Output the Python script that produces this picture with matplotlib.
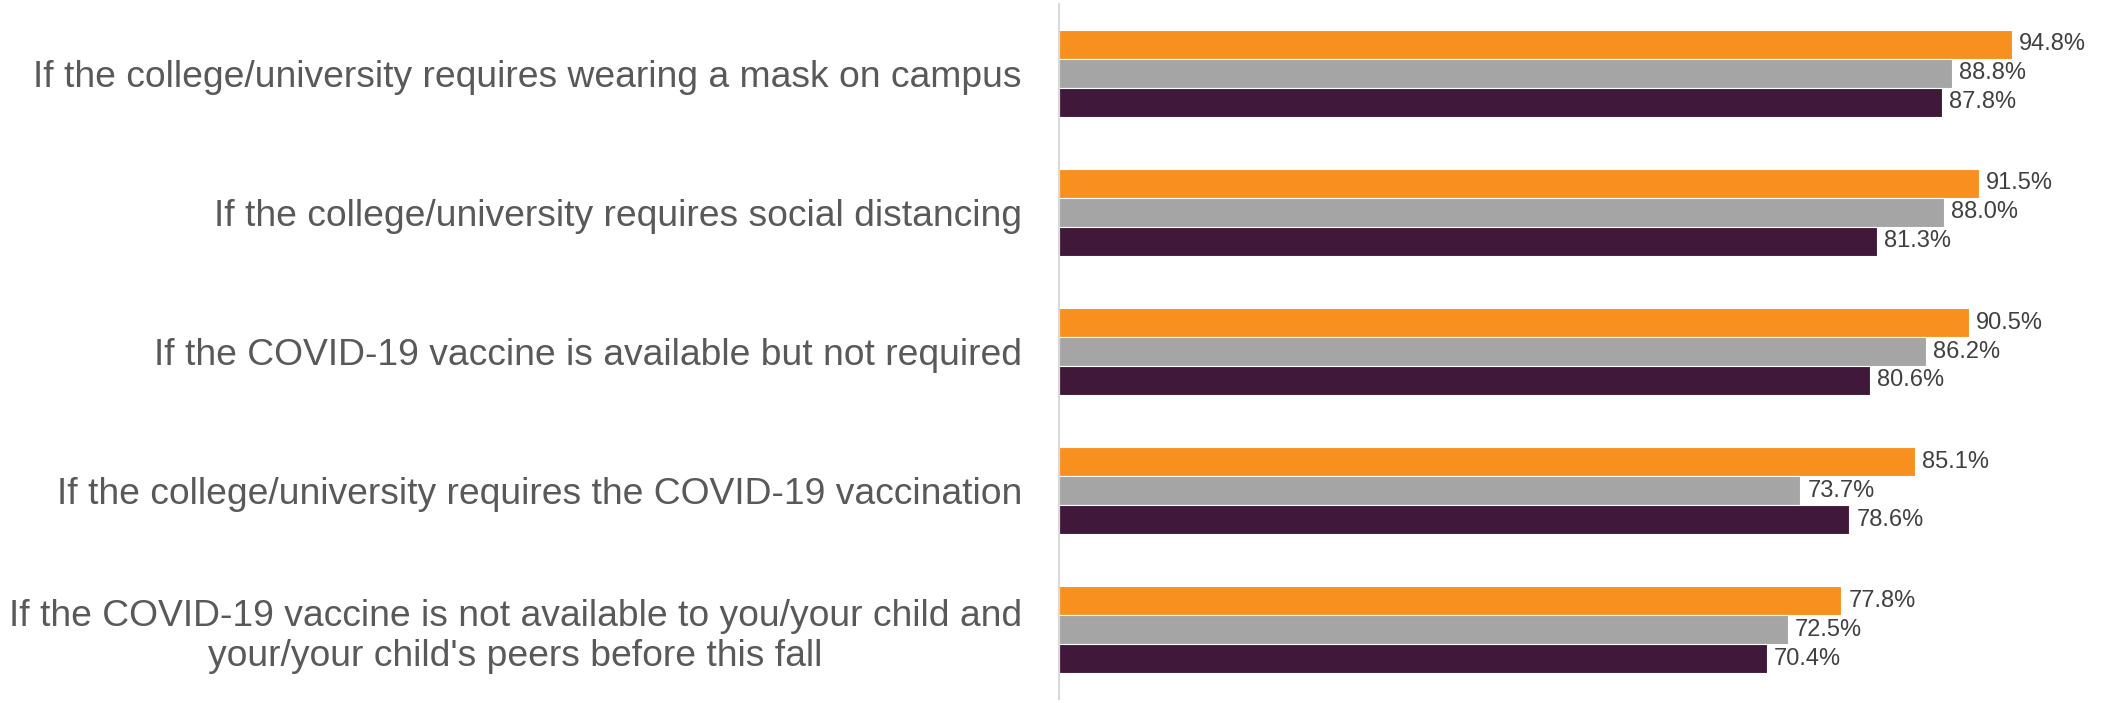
import numpy as np
import matplotlib
matplotlib.use("Agg")
import matplotlib.pyplot as plt

# Data
# ----------------------------------------------------------------------
CATEGORIES = [
    "If the college/university requires wearing a mask on campus",
    "If the college/university requires social distancing",
    "If the COVID-19 vaccine is available but not required",
    "If the college/university requires the COVID-19 vaccination",
    "If the COVID-19 vaccine is not available to you/your child and\nyour/your child's peers before this fall",
]
SERIES_ORANGE = [94.8, 91.5, 90.5, 85.1, 77.8]
SERIES_GRAY = [88.8, 88.0, 86.2, 73.7, 72.5]
SERIES_PURPLE = [87.8, 81.3, 80.6, 78.6, 70.4]
# ----------------------------------------------------------------------

COLORS = ["#F7901E", "#A5A5A5", "#40193A"]
BAR_H = 0.208
LABEL_COLOR = "#595959"
VALUE_COLOR = "#404040"
FONT = "Liberation Sans"

plt.rcParams["font.family"] = [FONT, "DejaVu Sans"]

fig = plt.figure(figsize=(21.08, 7.03), dpi=100)
ax = fig.add_axes([0.5026, 0.005, 0.4768, 0.99])

y = np.arange(len(CATEGORIES))
series = [SERIES_ORANGE, SERIES_GRAY, SERIES_PURPLE]
for i, (vals, col) in enumerate(zip(series, COLORS)):
    pos = y + (i - 1) * BAR_H
    ax.barh(pos, vals, height=BAR_H, color=col, edgecolor="white", linewidth=0.8)
    for p, v in zip(pos, vals):
        ax.text(v + 0.7, p, "%.1f%%" % v, va="center", ha="left",
                fontsize=17, color=VALUE_COLOR)

ax.set_xlim(0, 100)
ax.set_ylim(len(CATEGORIES) - 0.5, -0.5)
ax.set_yticks(y)
ax.set_yticklabels(CATEGORIES, fontsize=26.8, color=LABEL_COLOR,
                   ha="right", multialignment="center")
ax.tick_params(axis="y", length=0, pad=27)
ax.set_xticks([])
for side in ["top", "right", "bottom"]:
    ax.spines[side].set_visible(False)
ax.spines["left"].set_color("#D9D9D9")
ax.spines["left"].set_linewidth(1.5)

fig.savefig("out.png", dpi=100)
